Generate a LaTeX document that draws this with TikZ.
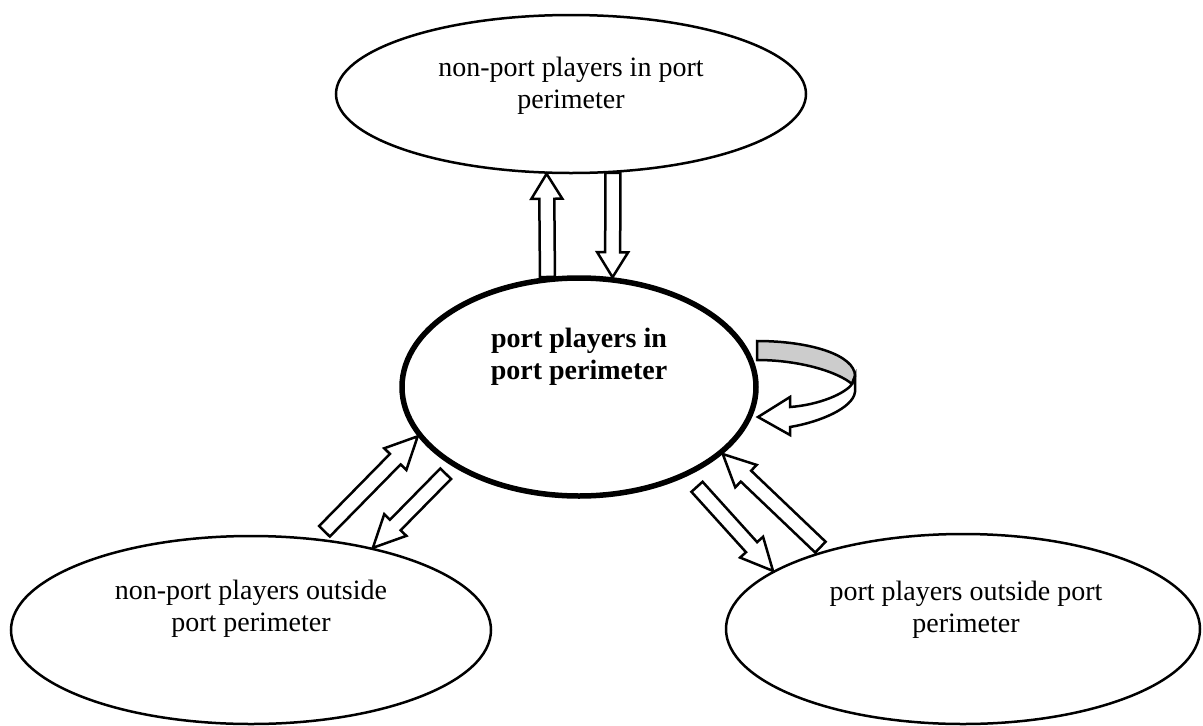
\documentclass[tikz,border=0pt]{standalone}
\usepackage{fontspec}
\setmainfont{Liberation Serif}
\usetikzlibrary{shapes.geometric,calc}

\begin{document}
\begin{tikzpicture}[x=1pt,y=-1pt,
    main node/.style={ellipse,draw,line width=2.5pt,fill=white,inner sep=0pt},
    hub node/.style={main node,line width=5.5pt},
    text node/.style={align=center,inner sep=0pt,font=\fontsize{28}{32}\selectfont},
    shaft w/.store in=\bshaft, head w/.store in=\bhead, head len/.store in=\bheadlen,
    shaft w=7.5pt, head w=15.5pt, head len=32pt,
    block/.style={draw,fill=white,line width=2.5pt,
      to path={($(\tikztostart)!\bshaft!90:(\tikztotarget)$)
        -- ($(\tikztotarget)!\bheadlen!(\tikztostart)!\bshaft!-90:(\tikztostart)$)
        -- ($(\tikztotarget)!\bheadlen!(\tikztostart)!\bhead!-90:(\tikztostart)$)
        -- (\tikztotarget)
        -- ($(\tikztotarget)!\bheadlen!(\tikztostart)!\bhead!90:(\tikztostart)$)
        -- ($(\tikztotarget)!\bheadlen!(\tikztostart)!\bshaft!90:(\tikztostart)$)
        -- ($(\tikztostart)!\bshaft!-90:(\tikztotarget)$) -- cycle}}]
    \useasboundingbox (0,0) rectangle (1203,726);

    \node[main node,minimum width=470,minimum height=158] (npin) at (571,94) {};
    \node[hub node,minimum width=354,minimum height=218] (pin) at (579,387) {};
    \node[main node,minimum width=480,minimum height=188] (npout) at (251,630) {};
    \node[main node,minimum width=474,minimum height=190] (pout) at (963,629) {};

    \node[text node] (npin l) at (571,86) {non-port players in port\\perimeter};
    \node[text node,font=\fontsize{28}{32}\selectfont\bfseries] (pin l) at (579,356.5)
        {port players in\\port perimeter};
    \node[text node] (npout l) at (251,609) {non-port players outside\\port perimeter};
    \node[text node] (pout l) at (966,610) {port players outside port\\perimeter};

    % up and down between the top two
    \draw[block,head len=25pt] (pin.106.7) to (npin.-107.4);
    \draw[block,head len=25pt] (npin.-62.5) to (pin.73.3);
    % lower left pair
    \draw[block] ($(npout.51.75)+(0,-8)$) to (pin.197.7);
    \draw[block] ($(pin.213)+(-9,6)$) to (npout.34.3);
    % lower right pair
    \draw[block] ($(pin.-40.66)+(11,10)$) to (pout.163.8);
    \draw[block] ($(pout.150.4)+(-6,-3)$) to (pin.-25);

    % turning arrow on the right
    \draw[line width=2.5pt,fill=gray!40] (757,341) .. controls (810,341) and (855,355) .. (855,376)
        -- (852,384) .. controls (838,372) and (800,360) .. (757,360) -- cycle;
    \draw[line width=2.5pt,fill=white] (855,376) -- (855,392)
        .. controls (853,408) and (820,422) .. (790,427) -- (790,435) -- (758,417)
        -- (790,397) -- (790,407) .. controls (818,405) and (845,394) .. (852,384) -- cycle;
\end{tikzpicture}
\end{document}
